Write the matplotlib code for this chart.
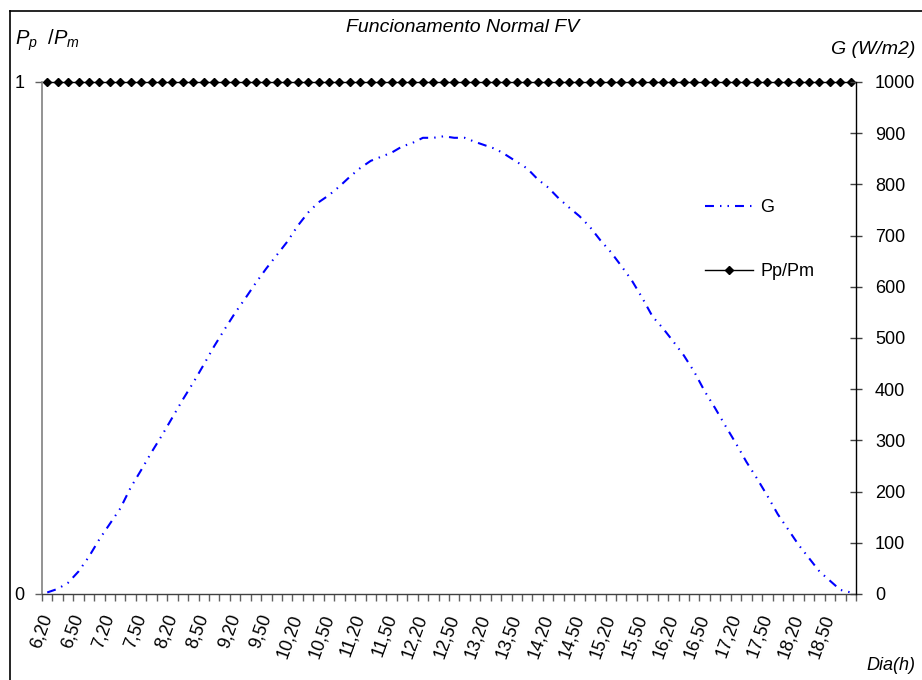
import matplotlib
matplotlib.use('Agg')
import matplotlib.pyplot as plt
from matplotlib.lines import Line2D
import numpy as np

plt.rcParams['font.family'] = ['Liberation Sans', 'DejaVu Sans']
plt.rcParams['mathtext.fontset'] = 'custom'
plt.rcParams['mathtext.it'] = 'Liberation Sans:italic'
plt.rcParams['mathtext.rm'] = 'Liberation Sans'

categories = [
    "6,20", "6,30", "6,40", "6,50",
    "7,00", "7,10", "7,20", "7,30", "7,40", "7,50",
    "8,00", "8,10", "8,20", "8,30", "8,40", "8,50",
    "9,00", "9,10", "9,20", "9,30", "9,40", "9,50",
    "10,00", "10,10", "10,20", "10,30", "10,40", "10,50",
    "11,00", "11,10", "11,20", "11,30", "11,40", "11,50",
    "12,00", "12,10", "12,20", "12,30", "12,40", "12,50",
    "13,00", "13,10", "13,20", "13,30", "13,40", "13,50",
    "14,00", "14,10", "14,20", "14,30", "14,40", "14,50",
    "15,00", "15,10", "15,20", "15,30", "15,40", "15,50",
    "16,00", "16,10", "16,20", "16,30", "16,40", "16,50",
    "17,00", "17,10", "17,20", "17,30", "17,40", "17,50",
    "18,00", "18,10", "18,20", "18,30", "18,40", "18,50",
    "19,00", "19,10",
]

G = [3, 10, 22, 44, 73, 107, 137, 167, 208, 242,
     277, 310, 345, 380, 413, 448, 484, 517, 549, 578,
     608, 636, 662, 688, 719, 745, 765, 779, 796, 815,
     832, 846, 854, 862, 874, 881, 891, 891, 894, 891,
     891, 883, 876, 869, 857, 844, 831, 810, 794, 773,
     755, 738, 717, 691, 668, 641, 613, 579, 542, 519,
     493, 466, 434, 396, 363, 328, 294, 258, 226, 192,
     156, 126, 96, 70, 44, 26, 8, 3]

PpPm = [1, 1, 1, 1, 1, 1, 1, 1, 1, 1,
        1, 1, 1, 1, 1, 1, 1, 1, 1, 1,
        1, 1, 1, 1, 1, 1, 1, 1, 1, 1,
        1, 1, 1, 1, 1, 1, 1, 1, 1, 1,
        1, 1, 1, 1, 1, 1, 1, 1, 1, 1,
        1, 1, 1, 1, 1, 1, 1, 1, 1, 1,
        1, 1, 1, 1, 1, 1, 1, 1, 1, 1,
        1, 1, 1, 1, 1, 1, 1, 1]

left_ticks = [0, 1]
right_ticks = [0, 100, 200, 300, 400, 500, 600, 700, 800, 900, 1000]
label_step = 3

W, H = 922, 680
fig = plt.figure(figsize=(W / 100, H / 100), dpi=100)
ax = fig.add_axes([42 / W, 1 - 594 / H, 814 / W, 512 / H])
ax2 = ax.twinx()

x = np.arange(len(categories))
lG, = ax2.plot(x, G, color='#0000FF', lw=1.5,
               dashes=(4.3, 2.9, 0.7, 2.9, 0.7, 2.9), label='G')
lP, = ax.plot(x, PpPm, color='black', lw=1.0, marker='D', ms=3.8,
              clip_on=False, label='Pp/Pm', zorder=5)

ax.set_xlim(-0.5, len(categories) - 0.5)
ax.set_ylim(0, 1)
ax2.set_ylim(0, 1000)

for s in ['top']:
    ax.spines[s].set_visible(False)
    ax2.spines[s].set_visible(False)
ax2.spines['left'].set_visible(False)
ax2.spines['bottom'].set_visible(False)
ax.spines['right'].set_visible(False)
ax.spines['left'].set_color('#808080')
ax.spines['left'].set_linewidth(1.2)
ax.spines['bottom'].set_color('#404040')
ax.spines['bottom'].set_linewidth(1.0)
ax2.spines['right'].set_color('black')
ax2.spines['right'].set_linewidth(1.0)

# x axis: tick marks at category boundaries, labels every 3rd category
ax.set_xticks(np.arange(-0.5, len(categories), 1))
ax.set_xticklabels([])
ax.tick_params(axis='x', which='major', direction='out', length=5,
               width=1, color='#606060')
pos = x[::label_step]
ax.set_xticks(pos, labels=[categories[i] for i in pos], minor=True)
ax.tick_params(axis='x', which='minor', length=0, pad=15, labelsize=13)
for lbl in ax.get_xticklabels(minor=True):
    lbl.set_rotation(70)
    lbl.set_ha('right')
    lbl.set_va('center')
    lbl.set_rotation_mode('anchor')

ax.set_yticks(left_ticks, labels=[str(v) for v in left_ticks])
ax.tick_params(axis='y', direction='out', length=5, width=1,
               color='#606060', pad=7.5, labelsize=13)

ax2.set_yticks(right_ticks, labels=[str(v) for v in right_ticks])
ax2.tick_params(axis='y', direction='inout', length=8.6, width=1,
                color='#404040', pad=9.4, labelsize=13)

# texts
fig.text(463 / W, 1 - 27 / H, 'Funcionamento Normal FV', ha='center',
         va='center', fontsize=14, style='italic')
fig.text(15 / W, 1 - 40 / H, r'$P_p\ \ /P_m$', ha='left', va='center',
         fontsize=14.5)
fig.text(915 / W, 1 - 50 / H, 'G (W/m2)', ha='right', va='center',
         fontsize=14, style='italic')
fig.text(915 / W, 1 - 665 / H, 'Dia(h)', ha='right', va='center',
         fontsize=13, style='italic')

leg = ax2.legend(handles=[lG, lP], loc='upper left',
                 bbox_to_anchor=(705 / W, 1 - 199 / H),
                 bbox_transform=fig.transFigure, frameon=False,
                 borderpad=0, borderaxespad=0, handlelength=2.67,
                 handletextpad=0.4, labelspacing=2.6, numpoints=1,
                 fontsize=13)

# outer border (partially cropped in the reference)
fig.add_artist(Line2D([10 / W, 10 / W], [0, 1 - 11 / H],
                      transform=fig.transFigure, color='black', lw=1.2))
fig.add_artist(Line2D([10 / W, 1], [1 - 11 / H, 1 - 11 / H],
                      transform=fig.transFigure, color='black', lw=1.2))

fig.savefig('out.png', dpi=100)
